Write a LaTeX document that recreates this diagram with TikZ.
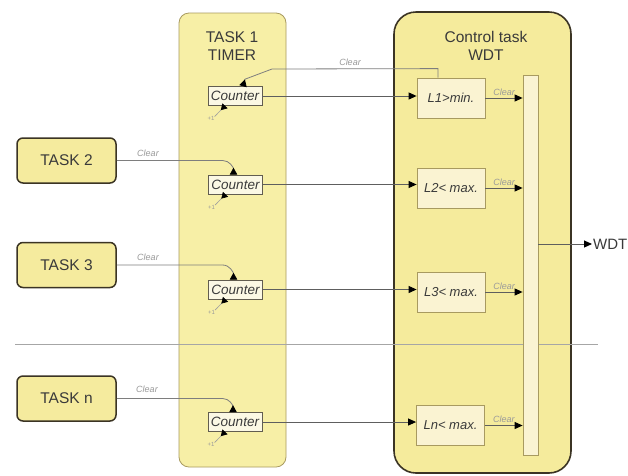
\documentclass[tikz,border=0pt]{standalone}
\usepackage{fontspec}
\setmainfont{Liberation Sans}
\usetikzlibrary{arrows.meta,calc}
\definecolor{colfill}{HTML}{F7EFA6}
\definecolor{ctrlfill}{HTML}{F5EB9C}
\definecolor{taskfill}{HTML}{F5EB9E}
\definecolor{cntfill}{HTML}{FBF8E4}
\definecolor{lfill}{HTML}{FAF3D2}
\definecolor{tanedge}{HTML}{A89A60}
\definecolor{darkedge}{HTML}{3B3424}
\definecolor{lineg}{HTML}{5E5E5E}
\definecolor{clearg}{HTML}{9A9A9A}
\definecolor{textc}{HTML}{3A3A3A}
\tikzset{
  timercol/.style={draw=tanedge, fill=colfill, line width=0.8pt, rounded corners=10pt},
  ctrlcol/.style={draw=darkedge, fill=ctrlfill, line width=1.6pt, rounded corners=22pt},
  taskbox/.style={draw=darkedge, fill=taskfill, line width=1.5pt, rounded corners=6pt,
    minimum width=99pt, minimum height=45pt, inner sep=0pt, font=\fontsize{15.5}{17}\selectfont, text=textc},
  counterbox/.style={draw=darkedge!80, fill=cntfill, line width=0.6pt, minimum width=54pt,
    minimum height=19pt, inner sep=0pt, font=\fontsize{13.5}{15}\selectfont\itshape, text=textc},
  lbox/.style={draw=tanedge, fill=lfill, line width=0.8pt, minimum width=68pt,
    minimum height=40pt, inner sep=0pt, font=\fontsize{13}{15}\selectfont\itshape, text=textc},
  barbox/.style={draw=tanedge, fill=lfill, line width=0.8pt, minimum width=15pt,
    minimum height=380pt, inner sep=0pt},
  coltitle/.style={align=center, font=\fontsize{15.5}{18}\selectfont, text=textc},
  conn/.style={draw=lineg, line width=0.9pt, -{Triangle[length=8pt,width=7pt,color=black]}},
  clrline/.style={draw=lineg!80, line width=0.8pt, -{Triangle[reversed,length=7pt,width=7.5pt,color=black]}},
  incline/.style={draw=lineg!60, line width=0.6pt, -{Triangle[reversed,length=6pt,width=7pt,color=black]}},
  clearlbl/.style={font=\fontsize{9}{10}\selectfont\itshape, text=clearg, inner sep=1pt},
  pluslbl/.style={font=\fontsize{6}{7}\selectfont, text=clearg, inner sep=0pt},
  sepline/.style={draw=black!35, line width=0.7pt}
}
\begin{document}
\begin{tikzpicture}[x=1pt,y=-1pt]
\useasboundingbox (0,0) rectangle (628,475);
\fill[white] (0,0) rectangle (628,475);

% columns
\draw[timercol] (179,13) rectangle (286,467);
\draw[ctrlcol] (394,12) rectangle (571,473);
\node[coltitle] (t1title) at (232,46) {TASK 1\\TIMER};
\node[coltitle] (ctitle) at (486,46) {Control task\\WDT};

% separator
\draw[sepline] (15,344) -- (598,344);

% bar
\node[barbox] (bar) at (530.5,265) {};

% tasks
\node[taskbox] (t2) at (66.5,160.5) {TASK 2};
\node[taskbox] (t3) at (66.5,265) {TASK 3};
\node[taskbox] (tn) at (66.5,398.5) {TASK n};

% counters
\node[counterbox] (c1) at (235,96) {Counter};
\node[counterbox] (c2) at (235.5,184.5) {Counter};
\node[counterbox] (c3) at (235.5,289.5) {Counter};
\node[counterbox] (cn) at (235,422) {Counter};

% L boxes
\node[lbox] (l1) at (451,98) {L1>min.};
\node[lbox] (l2) at (451,188) {L2< max.};
\node[lbox] (l3) at (451,292) {L3< max.};
\node[lbox] (ln) at (450.5,425.5) {Ln< max.};

% counter -> L
\draw[conn] (c1.east) -- (c1.east -| l1.west);
\draw[conn] (c2.east) -- (c2.east -| l2.west);
\draw[conn] (c3.east) -- (c3.east -| l3.west);
\draw[conn] (cn.east) -- (cn.east -| ln.west);

% L -> bar
\foreach \l in {l1,l2,l3,ln}{
  \draw[conn] (\l.east) -- (\l.east -| bar.west)
    node[clearlbl, midway, above, yshift=1pt] {Clear};
}

% clear from L1 to counter 1
\draw[clrline] ([xshift=-13pt]l1.north) -- ++(0,-9) -- (272,69)
  -- ($(c1.north)+(10,-7)$) -- ([xshift=8pt]c1.north);
\node[clearlbl] (clr1) at (350,62) {Clear};

% clear from tasks
\draw[clrline] (t2.east) -- ++(106,0) to[out=0,in=90] ([xshift=-2pt]c2.north);
\node[clearlbl] (clr2) at (148,153) {Clear};
\draw[clrline] (t3.east) -- ++(106,0) to[out=0,in=90] ([xshift=-2pt]c3.north);
\node[clearlbl] (clr3) at (148,257) {Clear};
\draw[clrline] (tn.east) -- ++(106,0) to[out=0,in=90] ([xshift=-2pt]cn.north);
\node[clearlbl] (clrn) at (147,389) {Clear};

% +1 increments
\foreach \c in {c1,c2,c3,cn}{
  \node[pluslbl] (p\c) at ($(\c.south)+(-24,13)$) {+1};
  \draw[incline] (p\c.north east) -- ([xshift=-10pt]\c.south);
}

% WDT output
\node[anchor=west, inner sep=0pt, font=\fontsize{15}{17}\selectfont, text=textc] (wdt) at (593,244) {WDT};
\draw[conn] (bar.east |- wdt.west) -- ([xshift=-1pt]wdt.west);
\end{tikzpicture}
\end{document}
